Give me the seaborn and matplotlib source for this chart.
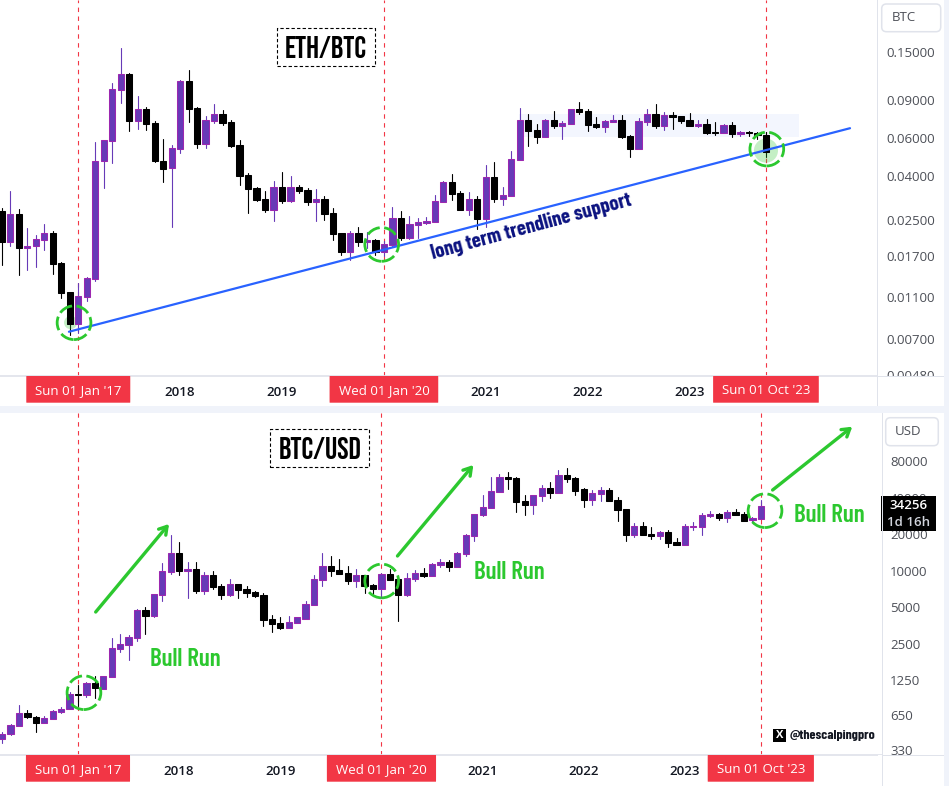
import numpy as np
import pandas as pd
import matplotlib
matplotlib.use("Agg")
import matplotlib.pyplot as plt
from matplotlib.patches import Rectangle, FancyBboxPatch
from matplotlib.ticker import NullLocator, FixedLocator, FixedFormatter
import seaborn as sns

# Monthly candles; month 0 is January 2017
months = np.arange(-9, 82)

eth_high = [.0284,.0341,.0281,.0230,.0213,.0240,.0222,.0160,.0116,
    .01275,.0137,.0574,.0589,.1078,.1570,.1199,.0942,.0840,.0724,.0595,.0556,
    .1116,.1242,.0834,.0760,.0865,.0808,.0729,.0589,.0415,.0357,.0342,.0380,
    .0418,.0400,.0364,.0352,.0349,.0322,.0284,.0218,.0223,.0232,.0220,.0204,
    .0201,.0288,.0276,.0262,.0255,.0259,.0327,.0380,.0408,.0340,.0337,.0322,
    .0451,.0464,.0358,.0524,.0828,.0778,.0698,.0736,.0803,.0721,.0820,.0883,
    .0820,.0752,.0729,.0768,.0768,.0621,.0745,.0820,.0865,.0794,.0794,.0760,
    .0785,.0729,.0736,.0714,.0698,.0714,.0648,.0648,.0641,.0641]
eth_low = [.0155,.0190,.0139,.0147,.0152,.0182,.0141,.0109,.00735,
    .00748,.01055,.0131,.0353,.0461,.0877,.0650,.0662,.0655,.0466,.0376,.0232,
    .0513,.0714,.0541,.0541,.0706,.0691,.0548,.0364,.0271,.0308,.0274,.0248,
    .0301,.0302,.0335,.0295,.0248,.0251,.0203,.0173,.0163,.0190,.0185,.0173,
    .0170,.0190,.0203,.0205,.0207,.0240,.0245,.0304,.0310,.0279,.0264,.0227,
    .0233,.0303,.0294,.0324,.0476,.0552,.0570,.0608,.0669,.0595,.0698,.0778,
    .0648,.0669,.0641,.0714,.0602,.0491,.0534,.0691,.0669,.0655,.0662,.0706,
    .0684,.0676,.0628,.0621,.0634,.0608,.0615,.0615,.0595,.0491]
eth_open = [.0276,.0199,.0267,.0185,.0189,.0203,.0218,.0159,.0116,
    .00829,.0110,.0134,.0468,.0585,.1008,.1190,.0724,.0820,.0706,.0470,.0438,
    .0536,.1103,.0828,.0566,.0724,.0778,.0714,.0558,.0404,.0353,.0314,.0280,
    .0357,.0308,.0357,.0345,.0304,.0313,.0270,.0218,.0178,.0218,.0199,.0203,
    .0178,.0192,.0257,.0207,.0238,.0243,.0245,.0304,.0376,.0334,.0279,.0314,
    .0253,.0396,.0314,.0324,.0476,.0729,.0655,.0608,.0729,.0686,.0698,.0820,
    .0803,.0698,.0676,.0714,.0729,.0615,.0534,.0714,.0778,.0684,.0768,.0760,
    .0729,.0686,.0698,.0641,.0634,.0691,.0630,.0641,.0634,.0621]
eth_close = [.0199,.0267,.0185,.0190,.0205,.0218,.0157,.0115,.00825,
    .0111,.0135,.0470,.0587,.1014,.1190,.0724,.0820,.0700,.0468,.0433,.0538,
    .1103,.0823,.0566,.0729,.0778,.0706,.0554,.0402,.0350,.0311,.0280,.0357,
    .0307,.0357,.0342,.0304,.0314,.0267,.0216,.0178,.0218,.0198,.0203,.0178,
    .0194,.0257,.0206,.0240,.0245,.0248,.0307,.0376,.0331,.0279,.0314,.0253,
    .0396,.0314,.0327,.0481,.0729,.0648,.0608,.0729,.0684,.0706,.0820,.0794,
    .0691,.0676,.0721,.0729,.0608,.0534,.0721,.0778,.0684,.0768,.0752,.0721,
    .0684,.0700,.0634,.0636,.0691,.0628,.0641,.0634,.0621,.0518]

btc_high = [466,546,783,712,636,636,712,750,1001,
    1144,1219,1357,1357,2772,3010,2952,4805,5018,6430,11490,19660,
    17220,11780,11780,9740,9930,7760,8540,7760,7470,6800,6550,4320,
    4155,4232,4155,5625,9210,13970,13190,12470,10920,10330,9210,7760,
    9560,10330,8540,9560,10120,10510,11560,12470,12240,14250,19900,29280,
    41990,59060,62530,64950,59060,41990,41990,50740,53750,67460,70500,59060,
    47990,46150,48860,47990,40420,32170,24680,25150,22890,21210,21620,18580,
    24230,25150,29840,30990,29840,31590,32170,30220,27660,38190]
btc_low = [383,439,529,612,472,560,604,677,731,
    768,912,895,1067,1340,2152,1839,2652,3010,4155,5625,9380,
    9210,5970,6550,6430,7060,5840,6190,5970,6070,6070,3500,3130,
    3310,3370,3710,4000,5210,7470,9030,9380,7760,7330,6550,6430,
    5970,8380,3850,6190,8220,8870,9030,10710,9930,10710,13190,17540,
    28190,32820,44460,47030,30220,28730,29280,37470,39640,43610,53750,41990,
    33440,34730,37470,37470,25620,17540,18930,19660,18220,18220,15660,16370,
    16270,21620,19660,27660,26130,25150,28730,25620,25150,26760]
btc_open = [414,450,529,669,620,560,604,690,731,
    965,953,1181,1067,1340,2265,2443,2790,4745,4232,6300,9740,
    13970,9930,10330,6800,9210,7470,6300,7760,7060,6670,6300,4000,
    3710,3370,3710,4000,5210,8380,10920,10120,9560,8220,9210,7620,
    7060,9380,8540,6300,8540,9560,9030,11130,11780,10710,13730,19290,
    28730,32820,44460,59060,57950,37470,34730,41200,47990,43610,61330,57950,
    47030,38190,42800,46150,38190,32170,19660,23290,19900,19290,20800,17220,
    16270,22890,22890,28190,29280,27130,30220,29280,26130,26760]
btc_close = [452,532,669,620,560,608,694,731,965,
    953,1181,1074,1357,2307,2490,2842,4745,4232,6430,9940,13970,
    9930,10330,6800,9210,7330,6300,7760,6930,6550,6190,3925,3640,
    3370,3780,4155,5320,8540,10920,9930,9380,8220,9210,7470,7060,
    9380,8380,6300,8710,9560,9030,11340,11780,10710,13970,19660,29280,
    33440,45280,59060,56850,36800,34730,41990,47990,43610,61330,56850,45280,
    38190,43610,46150,37470,31590,19660,23290,19660,19290,20800,16900,16370,
    23290,23290,28730,29280,27130,30220,28930,25620,27130,34256]

year_months = [12, 24, 48, 60, 72]
year_labels = ["2018", "2019", "2021", "2022", "2023"]
event_months = [0, 36, 81]
event_labels = ["Sun 01 Jan '17", "Wed 01 Jan '20", "Sun 01 Oct '23"]
eth_ticks = [0.15, 0.09, 0.06, 0.04, 0.025, 0.017, 0.011, 0.007, 0.0048]
btc_ticks = [80000, 40000, 20000, 10000, 5000, 2500, 1250, 650, 330]

# Long-term support line and the range box on the ETH/BTC panel
trend_months = [-1.1, 90.9]
trend_prices = [0.0076, 0.0667]
range_months = [51.9, 84.9]
range_prices = [0.0606, 0.0778]

# Circled reversal areas and the up arrows on the BTC/USD panel
eth_circle_months = [-0.5, 35.74, 81.1]
eth_circle_prices = [0.00837, 0.0193, 0.0534]
btc_circle_months = [0.71, 36.03, 81.5]
btc_circle_prices = [988, 8220, 31180]
arrow_start_months = [2.1, 37.9, 82.4]
arrow_start_prices = [4562, 13200, 46150]
arrow_end_months = [10.8, 46.9, 91.85]
arrow_end_prices = [24230, 74160, 153400]

UP = "#673ab7"
UP_EDGE = "#9c27b0"
DOWN = "#000000"
RED = "#f23645"
GREEN = "#2cc82f"
BLUE = "#2962ff"
NAVY = "#0b1280"
RULE = "#e0e3eb"
GAP = "#f0f3fa"
TICK = "#4c4f57"

sns.set_theme(style="white")
plt.rcParams["font.family"] = ["Open Sans", "DejaVu Sans"]
NARROW = ["Barlow Condensed", "Roboto Condensed", "DejaVu Sans"]
HEADING = ["Bebas Neue", "Barlow Condensed", "DejaVu Sans"]

W, H = 949, 786
fig = plt.figure(figsize=(W / 100, H / 100), dpi=100, facecolor="white")


def at(px, py):
    return px / W, 1 - py / H


def add_axes(right, top, bottom):
    return fig.add_axes([0, 1 - bottom / H, right / W, (bottom - top) / H])


def draw_candles(ax, opens, highs, lows, closes):
    frame = pd.DataFrame({"month": months, "open": opens, "high": highs,
                          "low": lows, "close": closes})
    frame["side"] = np.where(frame["close"] >= frame["open"], "up", "down")
    wicks = frame.melt(id_vars=["month", "side"], value_vars=["high", "low"],
                       value_name="price")
    sns.lineplot(data=wicks, x="month", y="price", hue="side", units="month",
                 estimator=None, palette={"up": UP, "down": DOWN}, linewidth=0.8,
                 legend=False, ax=ax, zorder=2)
    for side, fill, edge in (("up", UP, UP_EDGE), ("down", DOWN, DOWN)):
        part = frame[frame["side"] == side]
        low_edge = part[["open", "close"]].min(axis=1)
        high_edge = part[["open", "close"]].max(axis=1)
        ax.bar(part["month"], high_edge - low_edge, bottom=low_edge, width=0.74,
               color=fill, edgecolor=edge, linewidth=0.75, zorder=3)


def style_axes(ax, xlim, ylim, ticks, labels, pad):
    ax.set_yscale("log")
    ax.set_xlim(*xlim)
    ax.set_ylim(*ylim)
    ax.set_xlabel("")
    ax.set_ylabel("")
    ax.yaxis.tick_right()
    ax.yaxis.set_major_locator(FixedLocator(ticks))
    ax.yaxis.set_major_formatter(FixedFormatter(labels))
    ax.yaxis.set_minor_locator(NullLocator())
    ax.tick_params(axis="y", length=0, pad=pad, labelsize=9.5, labelcolor=TICK)
    ax.set_xticks(year_months, year_labels)
    ax.tick_params(axis="x", length=0, pad=7.5, labelsize=9.5, labelcolor="#131722")
    for label in ax.get_xticklabels():
        label.set_fontweight(600)
    for name, spine in ax.spines.items():
        spine.set_visible(name == "bottom")
        spine.set_color(RULE)
    ax.patch.set_alpha(0)


def mark_events(ax, band, tag_widths):
    trans = ax.get_xaxis_transform()
    for month, text, width in zip(event_months, event_labels, tag_widths):
        ax.axvline(month, color=RED, linewidth=0.8, dashes=(4, 4), zorder=1)
        ax.add_patch(FancyBboxPatch((month - width / 2, -band), width, band,
                                    boxstyle="round,pad=0,rounding_size=0.01",
                                    mutation_aspect=1, transform=trans,
                                    facecolor=RED, edgecolor="none",
                                    clip_on=False, zorder=6))
        ax.annotate(text, xy=(month, -band / 2), xycoords=trans, xytext=(0, -1),
                    textcoords="offset points", ha="center", va="center",
                    color="white", fontsize=9.5, fontweight=500,
                    annotation_clip=False, zorder=7)


def dashed_circles(ax, xs, ys):
    ax.scatter(xs, ys, s=590, facecolors="none", edgecolors=GREEN, linewidths=2.0,
               linestyle=(0, (5, 1.6)), zorder=5)


def heading(text, px, py):
    x, y = at(px, py)
    fig.text(x, y, text, family=HEADING, fontsize=22, color="black",
             ha="center", va="center", zorder=4,
             bbox=dict(boxstyle="square,pad=0.26", fc="white", ec="black",
                       ls=(0, (3, 2)), lw=0.8))


def currency_box(text, left, right, top, bottom, px):
    x0, y1 = at(left, bottom)
    x1, y0 = at(right, top)
    box = FancyBboxPatch((x0, y1), x1 - x0, y0 - y1,
                         boxstyle="round,pad=0,rounding_size=0.005",
                         mutation_aspect=W / H, transform=fig.transFigure,
                         facecolor="white", edgecolor=RULE, linewidth=1.1, zorder=7)
    fig.add_artist(box)
    x, y = at(px, (top + bottom) / 2)
    fig.text(x, y, text, color=TICK, fontsize=9.5, ha="center", va="center", zorder=8)


def sheet(left, top, right, bottom, colour, zorder):
    x0, y0 = at(left, bottom)
    fig.add_artist(Rectangle((x0, y0), (right - left) / W, (bottom - top) / H,
                             transform=fig.transFigure, facecolor=colour,
                             edgecolor="none", zorder=zorder))


# ETH/BTC panel
ax_eth = add_axes(877, 0, 376)
ax_eth.set_yscale("log")
draw_candles(ax_eth, eth_open, eth_high, eth_low, eth_close)
style_axes(ax_eth, (-9.22, 94.08), (0.00474, 0.262), eth_ticks,
           [f"{t:.5f}" for t in eth_ticks], 6.5)
mark_events(ax_eth, 26.7 / 376, [12.25, 12.8, 12.45])
ax_eth.add_patch(Rectangle((range_months[0], range_prices[0]),
                           range_months[1] - range_months[0],
                           range_prices[1] - range_prices[0],
                           facecolor="#f3f6fe", edgecolor="none", zorder=0.5))
ax_eth.plot(trend_months, trend_prices, color=BLUE, linewidth=1.6, zorder=4)
ax_eth.scatter([-0.9, 81.0], [0.00838, 0.0525], s=[90, 300], color=GREEN, alpha=0.28,
               linewidths=0, zorder=2.5)
dashed_circles(ax_eth, eth_circle_months, eth_circle_prices)
ax_eth.text(0.606, 0.397, "long term trendline support", transform=ax_eth.transAxes,
            family=NARROW, fontsize=15, fontweight="bold", color=NAVY,
            rotation=15.1, rotation_mode="anchor", ha="center", va="center", zorder=5)

# BTC/USD panel
ax_btc = add_axes(881.7, 413, 755)
ax_btc.set_yscale("log")
draw_candles(ax_btc, btc_open, btc_high, btc_low, btc_close)
style_axes(ax_btc, (-9.25, 95.34), (303, 198800), btc_ticks,
           [str(t) for t in btc_ticks], 6)
mark_events(ax_btc, 26.7 / 342, [12.35, 12.95, 12.6])
dashed_circles(ax_btc, btc_circle_months, btc_circle_prices)
for x0, y0, x1, y1 in zip(arrow_start_months, arrow_start_prices,
                          arrow_end_months, arrow_end_prices):
    ax_btc.annotate("", xy=(x1, y1), xytext=(x0, y0), annotation_clip=False,
                    arrowprops=dict(arrowstyle="->,head_length=0.45,head_width=0.28",
                                    color=GREEN, lw=2.4, shrinkA=0, shrinkB=0), zorder=5)

# Horizontal gap, right-hand strip and the price-scale rules
sheet(878, 376, 944, 406, "white", 5)
sheet(878, 755, 944, 786, "white", 5)
sheet(0, 406, W, 413, GAP, 5)
sheet(944, 0, W, H, GAP, 5)
sheet(877, 0, 878, 406, RULE, 6)
sheet(881.7, 413, 882.7, 786, RULE, 6)
sheet(878, 376, 944, 377, RULE, 6)
sheet(882, 755, 944, 756, RULE, 6)

# Last-price tag drawn from the final close
ax_btc.add_patch(Rectangle(at(881, 530.7), 54.7 / W, 34.7 / H, transform=fig.transFigure,
                           facecolor="black", edgecolor="none", clip_on=False, zorder=10))
last_close = btc_close[-1]
yaxis_trans = ax_btc.get_yaxis_transform()
ax_btc.annotate(f"{last_close}", xy=(1, last_close), xycoords=yaxis_trans,
                xytext=(19.6, 0), textcoords="offset points", color="white", fontsize=9.5,
                fontweight=600, ha="center", va="center", annotation_clip=False, zorder=11)
ax_btc.annotate("1d 16h", xy=(1, last_close), xycoords=yaxis_trans,
                xytext=(19.6, -12), textcoords="offset points", color="#d1d4dc", fontsize=9.5,
                fontweight=600, ha="center", va="center", annotation_clip=False, zorder=11)

heading("ETH/BTC", 326, 46.8)
heading("BTC/USD", 319.7, 448)
for text, px, py in (("Bull Run", 185.7, 660), ("Bull Run", 509.3, 572.7), ("Bull Run", 829.3, 515)):
    x, y = at(px, py)
    fig.text(x, y, text, family=NARROW, fontsize=18, fontweight=600, color=GREEN,
             ha="center", va="center", zorder=4)

currency_box("BTC", 881.7, 940.7, 4, 31.7, 904)
currency_box("USD", 885.7, 938.3, 417.7, 445.7, 907.7)

# Author handle with a small X badge
x0, y0 = at(773, 741.7)
fig.add_artist(Rectangle((x0, y0), 12.7 / W, 12.7 / H, transform=fig.transFigure,
                         facecolor="black", edgecolor="none", zorder=4))
x, y = at(779.3, 735.3)
fig.text(x, y, "X", color="white", fontsize=8, fontweight="bold", ha="center", va="center", zorder=5)
x, y = at(790, 735.3)
fig.text(x, y, "@thescalpingpro", family=NARROW, color="#131722", fontsize=10, fontweight="bold",
         ha="left", va="center", zorder=5)

fig.savefig("out.png", dpi=100, facecolor="white")
